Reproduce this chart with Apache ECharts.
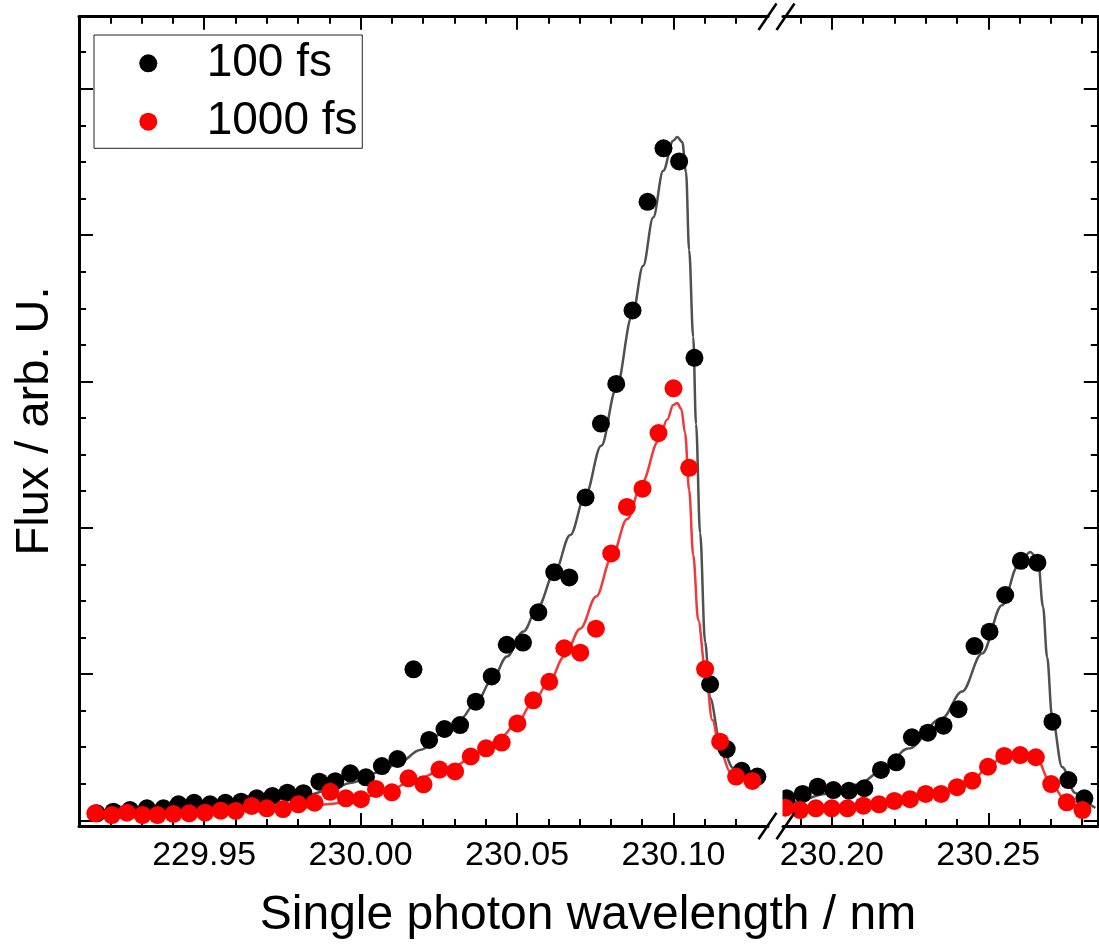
<!DOCTYPE html>
<html>
<head>
<meta charset="utf-8">
<script src="https://cdn.jsdelivr.net/npm/echarts@6.0.0/dist/echarts.min.js"></script>
<style>
  html, body { margin: 0; padding: 0; background: #fff; }
  #chart { width: 1099px; height: 951px; }
</style>
</head>
<body>
<div id="chart"></div>
<script>
// measured points, left part of the broken axis (nm, arb. U.)
const wl100Left = [229.9157, 229.9210, 229.9263, 229.9317, 229.9370, 229.9418, 229.9468, 229.9519, 229.9568, 229.9618,
  229.9668, 229.9718, 229.9766, 229.9817, 229.9868, 229.9919, 229.9967, 230.0017, 230.0068, 230.0118,
  230.0169, 230.0219, 230.0268, 230.0318, 230.0368, 230.0419, 230.0467, 230.0519, 230.0568, 230.0619,
  230.0667, 230.0719, 230.0768, 230.0817, 230.0869, 230.0917, 230.0968, 230.1018, 230.1067, 230.1117,
  230.1170, 230.1218, 230.1268];
const flux100Left = [0.048, 0.059, 0.070, 0.082, 0.082, 0.109, 0.120, 0.109, 0.120, 0.127,
  0.150, 0.166, 0.189, 0.185, 0.264, 0.267, 0.321, 0.294, 0.371, 0.419,
  1.032, 0.549, 0.624, 0.651, 0.811, 0.983, 1.200, 1.215, 1.422, 1.696,
  1.660, 2.207, 2.712, 2.983, 3.485, 4.228, 4.593, 4.504, 3.161, 0.930,
  0.487, 0.338, 0.299];

const wl1000Left = [229.9152, 229.9205, 229.9253, 229.9303, 229.9351, 229.9402, 229.9452, 229.9503, 229.9553, 229.9601,
  229.9652, 229.9700, 229.9752, 229.9801, 229.9853, 229.9903, 229.9953, 230.0001, 230.0049, 230.0100,
  230.0153, 230.0201, 230.0252, 230.0302, 230.0352, 230.0401, 230.0451, 230.0501, 230.0552, 230.0603,
  230.0651, 230.0702, 230.0752, 230.0801, 230.0851, 230.0901, 230.0952, 230.1000, 230.1050, 230.1101,
  230.1149, 230.1200, 230.1252];
const flux1000Left = [0.048, 0.036, 0.052, 0.036, 0.036, 0.043, 0.048, 0.052, 0.066, 0.064,
  0.098, 0.082, 0.077, 0.109, 0.120, 0.195, 0.150, 0.144, 0.214, 0.191,
  0.287, 0.246, 0.347, 0.334, 0.436, 0.492, 0.531, 0.662, 0.820, 0.947,
  1.176, 1.146, 1.310, 1.824, 2.142, 2.267, 2.647, 2.953, 2.409, 1.033,
  0.537, 0.299, 0.269];

// measured points, right part of the broken axis
const wl100Right = [230.1856, 230.1907, 230.1955, 230.2005, 230.2055, 230.2104, 230.2157, 230.2206, 230.2256, 230.2307,
  230.2357, 230.2405, 230.2456, 230.2504, 230.2554, 230.2604, 230.2657, 230.2705, 230.2756, 230.2807];
const flux100Right = [0.150, 0.180, 0.230, 0.207, 0.202, 0.219, 0.344, 0.396, 0.567, 0.599,
  0.647, 0.759, 1.191, 1.289, 1.540, 1.774, 1.761, 0.674, 0.275, 0.150];

const wl1000Right = [230.1851, 230.1899, 230.1949, 230.2000, 230.2050, 230.2101, 230.2151, 230.2200, 230.2250, 230.2300,
  230.2349, 230.2400, 230.2449, 230.2499, 230.2551, 230.2602, 230.2652, 230.2701, 230.2751, 230.2801];
const flux1000Right = [0.086, 0.070, 0.082, 0.082, 0.082, 0.100, 0.109, 0.132, 0.144, 0.180,
  0.180, 0.226, 0.271, 0.366, 0.440, 0.446, 0.431, 0.248, 0.123, 0.070];

// fit curves
const fitWl100Left = [229.9155, 229.9327, 229.9487, 229.9647, 229.9807, 229.9903, 229.9967, 230.0062, 230.0126, 230.0190,
  230.0270, 230.0318, 230.0369, 230.0420, 230.0468, 230.0520, 230.0567, 230.0619, 230.0670, 230.0718,
  230.0769, 230.0817, 230.0868, 230.0903, 230.0935, 230.0967, 230.0999, 230.1012, 230.1028, 230.1040,
  230.1050, 230.1063, 230.1072, 230.1085, 230.1101, 230.1117, 230.1149, 230.1191, 230.1245, 230.1277];
const fitFlux100Left = [0.036, 0.064, 0.091, 0.125, 0.159, 0.207, 0.255, 0.330, 0.398, 0.481,
  0.610, 0.690, 0.805, 0.960, 1.120, 1.290, 1.460, 1.690, 1.950, 2.220,
  2.560, 2.950, 3.450, 3.790, 4.120, 4.440, 4.645, 4.671, 4.636, 4.431,
  3.898, 3.303, 2.709, 1.964, 1.219, 0.836, 0.535, 0.357, 0.282, 0.269];

const fitWl1000Left = [229.9152, 229.9327, 229.9487, 229.9647, 229.9807, 229.9903, 229.9999, 230.0094, 230.0168, 230.0254,
  230.0302, 230.0353, 230.0401, 230.0452, 230.0500, 230.0552, 230.0603, 230.0651, 230.0702, 230.0753,
  230.0801, 230.0852, 230.0900, 230.0951, 230.0980, 230.0999, 230.1012, 230.1025, 230.1037, 230.1050,
  230.1063, 230.1079, 230.1101, 230.1124, 230.1149, 230.1181, 230.1213, 230.1255];
const fitFlux1000Left = [0.029, 0.036, 0.050, 0.064, 0.084, 0.111, 0.152, 0.207, 0.275, 0.330,
  0.370, 0.430, 0.500, 0.575, 0.670, 0.810, 0.950, 1.120, 1.310, 1.530,
  1.790, 2.060, 2.310, 2.590, 2.740, 2.839, 2.852, 2.811, 2.647, 2.258,
  1.813, 1.369, 1.041, 0.686, 0.481, 0.330, 0.282, 0.269];

const fitWl100Right = [230.1838, 230.1883, 230.1979, 230.2084, 230.2161, 230.2244, 230.2353, 230.2416, 230.2480, 230.2544,
  230.2595, 230.2634, 230.2659, 230.2675, 230.2688, 230.2704, 230.2736, 230.2778, 230.2810, 230.2842];
const fitFlux100Right = [0.098, 0.125, 0.180, 0.245, 0.340, 0.490, 0.700, 0.880, 1.140, 1.470,
  1.740, 1.834, 1.779, 1.458, 1.116, 0.706, 0.364, 0.187, 0.118, 0.084];

// axis ticks
const yMin = -0.039, yMax = 5.493;
const yMajor = [0, 1, 2, 3, 4, 5];
const yMinor = [0.25, 0.5, 0.75, 1.25, 1.5, 1.75, 2.25, 2.5, 2.75, 3.25, 3.5, 3.75, 4.25, 4.5, 4.75, 5.25];
const xRangeLeft = [229.91, 230.1302];
const xRangeRight = [230.1844, 230.285];
const xMajorLeft = [229.95, 230.00, 230.05, 230.10];
const xMinorLeft = [229.92, 229.93, 229.94, 229.96, 229.97, 229.98, 229.99, 230.01, 230.02, 230.03, 230.04,
  230.06, 230.07, 230.08, 230.09, 230.11, 230.12];
const xMajorRight = [230.20, 230.25];
const xMinorRight = [230.19, 230.21, 230.22, 230.23, 230.24, 230.26, 230.27, 230.28];

const FONT = '"Liberation Sans", Arial, sans-serif';
const zip = (xs, ys) => xs.map((x, i) => [x, ys[i]]);

function xAxisPart(grid, pos, range, ticks, len, line, labels) {
  return {
    type: 'value', gridIndex: grid, position: pos, min: range[0], max: range[1],
    axisLine: { show: line, onZero: false, lineStyle: { color: '#000', width: 3 } },
    axisTick: { show: true, inside: true, length: len, customValues: ticks, lineStyle: { color: '#000', width: 2 } },
    axisLabel: labels
      ? { show: true, customValues: ticks, formatter: (v) => v.toFixed(2), margin: 13, color: '#000', fontSize: 34, fontFamily: FONT }
      : { show: false },
    splitLine: { show: false },
  };
}

function yAxisPart(grid, pos, ticks, len, line) {
  return {
    type: 'value', gridIndex: grid, position: pos, min: yMin, max: yMax,
    axisLine: { show: line, onZero: false, lineStyle: { color: '#000', width: 3 } },
    axisTick: { show: true, inside: true, length: len, customValues: ticks, lineStyle: { color: '#000', width: 2 } },
    axisLabel: { show: false },
    splitLine: { show: false },
  };
}

const dots = (name, xi, yi, data, color, z) => ({
  name, type: 'scatter', xAxisIndex: xi, yAxisIndex: yi, data,
  symbol: 'circle', symbolSize: 18, itemStyle: { color, opacity: 1 }, z,
});
const curve = (name, xi, yi, data, color) => ({
  name, type: 'line', xAxisIndex: xi, yAxisIndex: yi, data,
  showSymbol: false, smooth: 0.35, smoothMonotone: 'x', lineStyle: { color, width: 2.5 }, z: 2,
});

const chart = echarts.init(document.getElementById('chart'));
chart.setOption({
  animation: false,
  backgroundColor: '#fff',
  grid: [
    { left: 79, top: 16.7, width: 689, height: 809.3, outerBoundsMode: 'none' },
    { left: 783, top: 16.7, width: 314.8, height: 809.3, outerBoundsMode: 'none' },
  ],
  xAxis: [
    xAxisPart(0, 'bottom', xRangeLeft, xMajorLeft, 13, true, true),
    xAxisPart(0, 'bottom', xRangeLeft, xMinorLeft, 7, false, false),
    xAxisPart(0, 'top', xRangeLeft, xMajorLeft, 13, true, false),
    xAxisPart(0, 'top', xRangeLeft, xMinorLeft, 7, false, false),
    xAxisPart(1, 'bottom', xRangeRight, xMajorRight, 13, true, true),
    xAxisPart(1, 'bottom', xRangeRight, xMinorRight, 7, false, false),
    xAxisPart(1, 'top', xRangeRight, xMajorRight, 13, true, false),
    xAxisPart(1, 'top', xRangeRight, xMinorRight, 7, false, false),
  ],
  yAxis: [
    yAxisPart(0, 'left', yMajor, 14, true),
    yAxisPart(0, 'left', yMinor, 7, false),
    yAxisPart(1, 'right', yMajor, 14, true),
    yAxisPart(1, 'right', yMinor, 7, false),
  ],
  legend: {
    data: ['100 fs', '1000 fs'],
    orient: 'vertical',
    left: 94, top: 35,
    padding: [5.3, 4.7, 3.6, 45.3],
    itemGap: 12.4,
    itemWidth: 18, itemHeight: 18,
    icon: 'circle',
    borderColor: '#222', borderWidth: 1,
    textStyle: { color: '#000', fontSize: 46, lineHeight: 46, fontFamily: FONT, padding: [0, 0, 0, 44.4] },
    selectedMode: false,
  },
  series: [
    curve('fit 100 fs', 0, 0, zip(fitWl100Left, fitFlux100Left), '#505050'),
    curve('fit 1000 fs', 0, 0, zip(fitWl1000Left, fitFlux1000Left), '#ef3a3a'),
    curve('fit 100 fs right', 4, 2, zip(fitWl100Right, fitFlux100Right), '#505050'),
    curve('fit 1000 fs right', 4, 2, zip(wl1000Right, flux1000Right), '#ef3a3a'),
    dots('100 fs', 0, 0, zip(wl100Left, flux100Left), '#000000', 3),
    dots('100 fs', 4, 2, zip(wl100Right, flux100Right), '#000000', 3),
    dots('1000 fs', 0, 0, zip(wl1000Left, flux1000Left), '#ff0000', 4),
    dots('1000 fs', 4, 2, zip(wl1000Right, flux1000Right), '#ff0000', 4),
  ],
  graphic: [
    // hide marker overflow inside the axis break
    { type: 'rect', z: 100, shape: { x: 769, y: 18.5, width: 13.5, height: 806 }, style: { fill: '#fff' } },
    { type: 'line', z: 101, shape: { x1: 758.5, y1: 30, x2: 776.5, y2: 3.5 }, style: { stroke: '#000', lineWidth: 2.5 } },
    { type: 'line', z: 101, shape: { x1: 776.5, y1: 30, x2: 794.5, y2: 3.5 }, style: { stroke: '#000', lineWidth: 2.5 } },
    { type: 'line', z: 101, shape: { x1: 758.5, y1: 839.3, x2: 776.5, y2: 812.7 }, style: { stroke: '#000', lineWidth: 2.5 } },
    { type: 'line', z: 101, shape: { x1: 776.5, y1: 839.3, x2: 794.5, y2: 812.7 }, style: { stroke: '#000', lineWidth: 2.5 } },
    {
      type: 'text', x: 588, y: 915.5, z: 101,
      style: { text: 'Single photon wavelength / nm', fill: '#000', font: '48px ' + FONT, align: 'center', verticalAlign: 'middle' },
    },
    {
      type: 'text', x: 35, y: 421, rotation: Math.PI / 2, z: 101,
      style: { text: 'Flux / arb. U.', fill: '#000', font: '47px ' + FONT, align: 'center', verticalAlign: 'middle' },
    },
  ],
});
</script>
</body>
</html>
